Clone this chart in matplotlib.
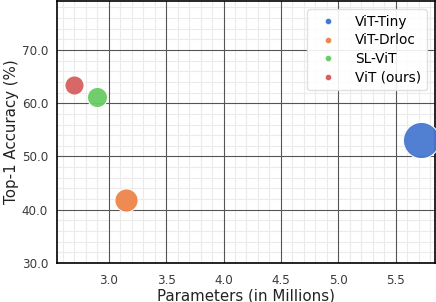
import matplotlib
matplotlib.use("Agg")
import matplotlib.pyplot as plt
from matplotlib.lines import Line2D
from matplotlib.ticker import AutoMinorLocator, FormatStrFormatter

models = ["ViT-Tiny", "ViT-Drloc", "SL-ViT", "ViT (ours)"]
params = [5.72, 3.15, 2.90, 2.70]
accuracy = [53.0, 41.8, 61.1, 63.4]
xticks = [3.0, 3.5, 4.0, 4.5, 5.0, 5.5]
yticks = [30, 40, 50, 60, 70]

colors = ["#4878d0", "#ee854a", "#6acc64", "#d65f5f"]
sizes = [680, 280, 210, 190]

fig = plt.figure(figsize=(4.36, 3.02), dpi=100)
pos = [0.131, 0.129, 0.866, 0.868]
XLIM = (2.55, 5.84)
YLIM = (30, 79.2)

# background axes: minor grid only
bg = fig.add_axes(pos)
bg.set_xlim(*XLIM)
bg.set_ylim(*YLIM)
bg.set_xticks(xticks)
bg.set_yticks(yticks)
bg.xaxis.set_minor_locator(AutoMinorLocator(5))
bg.yaxis.set_minor_locator(AutoMinorLocator(5))
bg.grid(which="minor", color="#ebebeb", linewidth=0.8)
bg.grid(which="major", visible=False)
bg.tick_params(which="both", length=0, labelbottom=False, labelleft=False)
for sp in bg.spines.values():
    sp.set_visible(False)

ax = fig.add_axes(pos)
ax.patch.set_alpha(0)

for m, x, y, c, s in zip(models, params, accuracy, colors, sizes):
    ax.scatter([x], [y], s=s, color=c, edgecolor="white", linewidth=0.8,
               alpha=0.95, label=m, zorder=3)

ax.set_xlim(*XLIM)
ax.set_ylim(*YLIM)
ax.set_xticks(xticks)
ax.set_yticks(yticks)
ax.xaxis.set_major_formatter(FormatStrFormatter("%.1f"))
ax.yaxis.set_major_formatter(FormatStrFormatter("%.1f"))

ax.grid(which="major", color="#555555", linewidth=0.8, zorder=0)
ax.set_axisbelow(True)
ax.tick_params(which="both", length=0, labelsize=8.6, labelcolor="#3a3a3a")
ax.tick_params(axis="x", pad=8)
ax.tick_params(axis="y", pad=6.5)
for sp in ax.spines.values():
    sp.set_color("black")
    sp.set_linewidth(1.2)

ax.set_xlabel("Parameters (in Millions)", fontsize=10.8, color="#222222", labelpad=1)
ax.set_ylabel("Top-1 Accuracy (%)", fontsize=10.8, color="#222222", labelpad=2)

handles = [Line2D([], [], linestyle="none", marker="o", markersize=4.5,
                  markerfacecolor=c, markeredgecolor="white", markeredgewidth=0.4)
           for c in colors]
leg = ax.legend(handles, models, loc="upper right", fontsize=9.8,
                frameon=True, borderpad=0.4, labelspacing=0.35,
                handlelength=2.2, handletextpad=0.9, borderaxespad=0.6)
leg.get_frame().set_edgecolor("#dddddd")
leg.get_frame().set_alpha(0.9)

fig.savefig("out.png", dpi=100)
